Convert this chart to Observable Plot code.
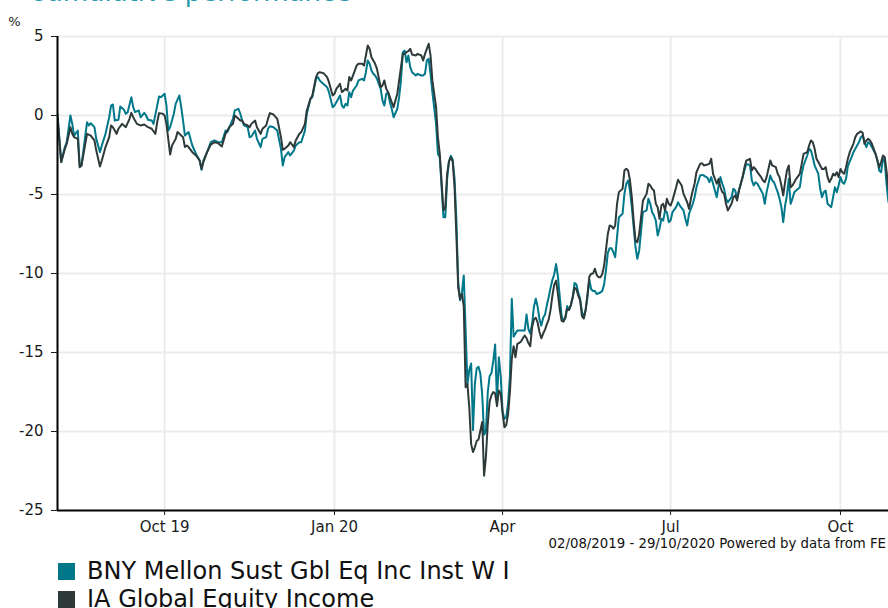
<!DOCTYPE html>
<html>
<head>
<meta charset="utf-8">
<script src="https://cdn.jsdelivr.net/npm/d3@7"></script>
<script src="https://cdn.jsdelivr.net/npm/@observablehq/plot@0.6"></script>
<style>
  html, body { margin: 0; padding: 0; background: #fff; overflow: hidden; }
  body { font-family: "DejaVu Sans", Verdana, sans-serif; }
  #wrap { position: relative; width: 888px; height: 608px; overflow: hidden; }
  #title { position: absolute; left: 28px; top: 0; font-size: 26px; line-height: 26px; height: 26px; color: #2a9bb0; white-space: nowrap; transform: translateY(-21px); }
  #chart { position: absolute; left: 0; top: 0; }
  #caption { position: absolute; right: 2px; top: 536px; font-size: 13.3px; line-height: 15px; color: #111; white-space: nowrap; }
  .lrow { position: absolute; left: 58px; height: 28px; display: flex; align-items: center; font-size: 24px; color: #111; white-space: nowrap; }
  .sw { width: 17px; height: 17px; margin-right: 12px; flex: none; }
</style>
</head>
<body>
<div id="wrap">
  <div id="title">Cumulative performance</div>
  <div id="chart"></div>
  <div id="caption"></div>
  <div id="legend"></div>
</div>
<script>
// ---------- DATA ----------
const seriesNames = ["BNY Mellon Sust Gbl Eq Inc Inst W I", "IA Global Equity Income"];
const seriesColors = ["#00788a", "#2e3a3a"];
const captionText = "02/08/2019 - 29/10/2020 Powered by data from FE";
const yTicks = [5, 0, -5, -10, -15, -20, -25];
const xTickDates = ["2019-10-01", "2020-01-01", "2020-04-01", "2020-07-01", "2020-10-01"];
const xTickLabels = ["Oct 19", "Jan 20", "Apr", "Jul", "Oct"];
const xDomain = ["2019-08-04", "2020-10-27"];

const bnyDates = [
"2019-08-04","2019-08-06","2019-08-08","2019-08-09","2019-08-11","2019-08-12","2019-08-13","2019-08-15","2019-08-16","2019-08-17",
"2019-08-20","2019-08-21","2019-08-22","2019-08-24","2019-08-25","2019-08-27","2019-08-28","2019-08-30",
"2019-09-01","2019-09-02","2019-09-03","2019-09-04","2019-09-06","2019-09-07","2019-09-09","2019-09-10","2019-09-11","2019-09-13",
"2019-09-14","2019-09-15","2019-09-17","2019-09-18","2019-09-20","2019-09-21","2019-09-22","2019-09-24","2019-09-25","2019-09-27",
"2019-09-28","2019-09-29",
"2019-10-01","2019-10-02","2019-10-03","2019-10-04","2019-10-06","2019-10-07","2019-10-09","2019-10-10","2019-10-11","2019-10-12",
"2019-10-14","2019-10-15","2019-10-16","2019-10-18","2019-10-20","2019-10-21","2019-10-22","2019-10-24","2019-10-26","2019-10-28","2019-10-30",
"2019-11-01","2019-11-03","2019-11-04","2019-11-07","2019-11-08","2019-11-10","2019-11-11","2019-11-12","2019-11-13","2019-11-15",
"2019-11-16","2019-11-17","2019-11-19","2019-11-20","2019-11-22","2019-11-23","2019-11-25","2019-11-26","2019-11-27","2019-11-29",
"2019-12-01","2019-12-03","2019-12-04","2019-12-05","2019-12-07","2019-12-08","2019-12-10","2019-12-11","2019-12-13","2019-12-14",
"2019-12-16","2019-12-17","2019-12-19","2019-12-20","2019-12-22","2019-12-23","2019-12-24","2019-12-26","2019-12-28","2019-12-29","2019-12-31",
"2020-01-01","2020-01-02","2020-01-04","2020-01-05","2020-01-06","2020-01-07","2020-01-08","2020-01-09","2020-01-10","2020-01-11",
"2020-01-13","2020-01-14","2020-01-16","2020-01-17","2020-01-18","2020-01-19","2020-01-20","2020-01-21","2020-01-22","2020-01-23",
"2020-01-24","2020-01-26","2020-01-27","2020-01-28","2020-01-29","2020-01-30","2020-01-31",
"2020-02-01","2020-02-02","2020-02-04","2020-02-05","2020-02-06","2020-02-07","2020-02-08","2020-02-09","2020-02-10","2020-02-11",
"2020-02-12","2020-02-14","2020-02-15","2020-02-17","2020-02-18","2020-02-19","2020-02-20","2020-02-21","2020-02-22","2020-02-23",
"2020-02-25","2020-02-26","2020-02-27","2020-02-29",
"2020-03-01","2020-03-02","2020-03-03","2020-03-04","2020-03-05","2020-03-06","2020-03-07","2020-03-08","2020-03-09","2020-03-10",
"2020-03-11","2020-03-12","2020-03-13","2020-03-14","2020-03-15","2020-03-16","2020-03-17","2020-03-18","2020-03-19","2020-03-20",
"2020-03-21","2020-03-22","2020-03-23","2020-03-24","2020-03-25","2020-03-26","2020-03-27","2020-03-28","2020-03-29","2020-03-30","2020-03-31",
"2020-04-01","2020-04-02","2020-04-03","2020-04-04","2020-04-05","2020-04-06","2020-04-07","2020-04-08","2020-04-09","2020-04-10",
"2020-04-11","2020-04-12","2020-04-13","2020-04-14","2020-04-15","2020-04-16","2020-04-17","2020-04-18","2020-04-19","2020-04-20",
"2020-04-21","2020-04-22","2020-04-23","2020-04-24","2020-04-25","2020-04-26","2020-04-27","2020-04-28","2020-04-29","2020-04-30",
"2020-05-01","2020-05-02","2020-05-03","2020-05-04","2020-05-05","2020-05-06","2020-05-07","2020-05-08","2020-05-09","2020-05-10",
"2020-05-11","2020-05-12","2020-05-13","2020-05-14","2020-05-15","2020-05-16","2020-05-17","2020-05-18","2020-05-19","2020-05-20",
"2020-05-21","2020-05-22","2020-05-23","2020-05-24","2020-05-25","2020-05-26","2020-05-27","2020-05-28","2020-05-29","2020-05-30","2020-05-31",
"2020-06-01","2020-06-02","2020-06-03","2020-06-05","2020-06-06","2020-06-07","2020-06-08","2020-06-09","2020-06-10","2020-06-11",
"2020-06-12","2020-06-13","2020-06-14","2020-06-16","2020-06-18","2020-06-19","2020-06-20","2020-06-21","2020-06-22","2020-06-23",
"2020-06-24","2020-06-25","2020-06-26","2020-06-27","2020-06-28","2020-06-29","2020-06-30",
"2020-07-01","2020-07-02","2020-07-04","2020-07-05","2020-07-06","2020-07-08","2020-07-09","2020-07-10","2020-07-11","2020-07-13",
"2020-07-14","2020-07-15","2020-07-17","2020-07-18","2020-07-19","2020-07-21","2020-07-22","2020-07-23","2020-07-24","2020-07-26",
"2020-07-27","2020-07-28","2020-07-29","2020-07-30","2020-07-31",
"2020-08-01","2020-08-03","2020-08-04","2020-08-05","2020-08-06","2020-08-07","2020-08-09","2020-08-10","2020-08-11","2020-08-13",
"2020-08-14","2020-08-15","2020-08-16","2020-08-17","2020-08-19","2020-08-20","2020-08-21","2020-08-22","2020-08-24","2020-08-25",
"2020-08-26","2020-08-27","2020-08-28","2020-08-29","2020-08-30","2020-08-31",
"2020-09-01","2020-09-02","2020-09-03","2020-09-04","2020-09-05","2020-09-06","2020-09-07","2020-09-09","2020-09-10","2020-09-11",
"2020-09-13","2020-09-14","2020-09-15","2020-09-16","2020-09-17","2020-09-19","2020-09-20","2020-09-21","2020-09-22","2020-09-23",
"2020-09-24","2020-09-25","2020-09-26","2020-09-27","2020-09-28","2020-09-29","2020-09-30",
"2020-10-01","2020-10-02","2020-10-03","2020-10-04","2020-10-05","2020-10-07","2020-10-08","2020-10-10","2020-10-11","2020-10-12",
"2020-10-13","2020-10-14","2020-10-15","2020-10-16","2020-10-17","2020-10-18","2020-10-19","2020-10-20","2020-10-21","2020-10-22",
"2020-10-23","2020-10-24","2020-10-25","2020-10-26","2020-10-27"
];
const bnyValues = [
0.11,-2.95,-2.0,-1.69,0.0,-0.53,-1.27,-0.95,-3.16,-3.16,
-0.42,-0.63,-0.49,-0.74,-1.48,-2.32,-1.90,-1.16,
-0.11,0.63,0.70,-0.32,-0.27,0.57,0.36,0.11,0.21,1.16,
0.53,0.21,0.32,-0.11,0.17,0.0,-0.27,-0.32,-0.53,0.63,
1.20,1.16,
1.37,0.63,-0.95,-0.74,0.11,0.74,1.27,0.53,-0.32,-1.27,
-1.05,-1.48,-1.90,-2.43,-2.85,-3.44,-2.85,-2.32,-1.69,-1.58,-1.69,
-1.69,-0.95,-1.05,-0.21,0.32,0.42,0.11,-0.32,-0.63,-0.74,
-1.37,-1.33,-0.95,-1.48,-2.0,-1.48,-1.37,-0.84,-0.68,-0.74,
-0.95,-2.11,-3.16,-2.64,-2.32,-2.53,-2.22,-1.90,-1.69,-1.69,
-0.95,0.11,1.06,1.16,2.32,2.43,2.22,2.0,1.79,1.48,0.53,
0.63,0.84,1.27,0.63,0.49,0.74,0.63,1.48,1.16,1.58,
1.90,2.22,2.32,2.22,2.74,3.48,3.27,2.85,2.64,2.53,
2.32,1.69,0.95,0.63,1.37,1.48,0.84,
0.42,-0.11,0.42,1.16,2.22,4.01,4.11,3.37,3.80,3.06,
2.74,2.53,2.64,2.53,2.53,2.64,3.48,3.59,2.64,1.48,
-0.53,-2.43,-2.64,-6.44,
-6.44,-4.0,-2.9,-2.55,-2.8,-4.0,-6.6,-10.6,-11.7,-11.2,
-10.13,-13.6,-17.0,-16.1,-15.7,-19.9,-17.0,-16.0,-15.9,-16.35,
-17.7,-20.2,-20.0,-17.5,-16.5,-16.3,-15.5,-14.5,-18.2,-15.3,-16.5,
-18.7,-19.2,-19.1,-18.2,-16.5,-11.6,-14.0,-13.8,-13.6,-13.6,
-13.6,-13.6,-13.6,-12.6,-13.5,-13.8,-13.2,-12.1,-11.6,-12.1,
-12.9,-13.3,-12.8,-12.6,-12.0,-11.5,-10.9,-10.4,-10.05,-9.4,
-10.2,-11.5,-12.7,-13.0,-12.8,-12.05,-12.3,-12.0,-11.5,-10.6,
-10.7,-11.2,-11.6,-12.4,-12.8,-12.3,-11.5,-10.4,-11.0,-11.1,
-11.1,-11.3,-11.25,-11.2,-11.1,-10.7,-9.8,-8.7,-8.4,-8.4,-8.65,
-8.97,-7.70,-6.44,-6.22,-4.96,-4.32,-4.11,-4.75,-5.80,-7.07,
-8.34,-9.07,-8.54,-6.12,-6.01,-5.27,-5.59,-6.12,-6.33,-6.65,
-7.59,-7.17,-6.54,-6.65,-6.01,-6.12,-6.75,
-6.65,-6.12,-5.80,-5.49,-5.70,-6.01,-6.54,-6.96,-6.22,-5.59,
-5.17,-4.54,-3.80,-3.76,-3.80,-3.95,-4.22,-3.90,-4.32,-5.17,
-4.43,-3.90,-4.32,-4.64,-5.27,
-5.49,-5.17,-4.64,-4.75,-5.27,-4.75,-3.90,-3.48,-3.06,-3.16,
-4.11,-4.43,-4.22,-4.32,-4.75,-4.96,-5.59,-4.85,-3.80,-4.11,
-4.22,-4.54,-4.85,-5.27,-5.80,-6.75,
-5.70,-5.06,-4.01,-5.59,-5.27,-4.85,-4.75,-4.54,-3.69,-3.16,
-2.53,-2.11,-2.22,-2.64,-3.16,-3.69,-4.64,-5.17,-4.85,-4.75,
-5.59,-5.70,-5.80,-5.17,-4.54,-4.85,-4.43,
-3.90,-4.22,-4.32,-4.01,-3.2,-2.64,-2.32,-1.90,-1.69,-1.37,
-1.27,-1.69,-2.0,-1.69,-1.79,-2.0,-2.22,-2.43,-2.85,-3.48,
-3.59,-2.74,-2.95,-4.43,-5.49
];

const iaDates = [
"2019-08-04","2019-08-06","2019-08-08","2019-08-09","2019-08-11","2019-08-12","2019-08-13","2019-08-15","2019-08-16","2019-08-17",
"2019-08-20","2019-08-22","2019-08-24","2019-08-25","2019-08-27","2019-08-28","2019-08-30",
"2019-09-01","2019-09-02","2019-09-03","2019-09-05","2019-09-06","2019-09-08","2019-09-10","2019-09-12","2019-09-13","2019-09-14",
"2019-09-16","2019-09-18","2019-09-20","2019-09-22","2019-09-24","2019-09-26","2019-09-27","2019-09-28","2019-09-30",
"2019-10-01","2019-10-02","2019-10-04","2019-10-05","2019-10-07","2019-10-08","2019-10-09","2019-10-11","2019-10-12","2019-10-13",
"2019-10-14","2019-10-16","2019-10-18","2019-10-20","2019-10-21","2019-10-22","2019-10-24","2019-10-26","2019-10-28","2019-10-30",
"2019-11-01","2019-11-03","2019-11-05","2019-11-07","2019-11-08","2019-11-10","2019-11-11","2019-11-12","2019-11-13","2019-11-15",
"2019-11-16","2019-11-17","2019-11-19","2019-11-20","2019-11-22","2019-11-23","2019-11-25","2019-11-26","2019-11-27","2019-11-29",
"2019-12-01","2019-12-03","2019-12-04","2019-12-05","2019-12-07","2019-12-08","2019-12-10","2019-12-11","2019-12-13","2019-12-14",
"2019-12-16","2019-12-17","2019-12-19","2019-12-20","2019-12-22","2019-12-23","2019-12-24","2019-12-26","2019-12-28","2019-12-29","2019-12-31",
"2020-01-01","2020-01-02","2020-01-04","2020-01-05","2020-01-06","2020-01-07","2020-01-08","2020-01-09","2020-01-10","2020-01-11",
"2020-01-13","2020-01-14","2020-01-16","2020-01-17","2020-01-18","2020-01-19","2020-01-20","2020-01-21","2020-01-22","2020-01-23",
"2020-01-24","2020-01-26","2020-01-27","2020-01-28","2020-01-29","2020-01-30","2020-01-31",
"2020-02-01","2020-02-02","2020-02-04","2020-02-05","2020-02-06","2020-02-07","2020-02-08","2020-02-09","2020-02-10","2020-02-11",
"2020-02-12","2020-02-14","2020-02-15","2020-02-17","2020-02-18","2020-02-19","2020-02-20","2020-02-21","2020-02-22","2020-02-23",
"2020-02-25","2020-02-26","2020-02-27","2020-02-29",
"2020-03-01","2020-03-02","2020-03-03","2020-03-04","2020-03-05","2020-03-06","2020-03-07","2020-03-08","2020-03-09","2020-03-10",
"2020-03-11","2020-03-12","2020-03-13","2020-03-14","2020-03-15","2020-03-16","2020-03-17","2020-03-18","2020-03-19","2020-03-20",
"2020-03-21","2020-03-22","2020-03-23","2020-03-24","2020-03-25","2020-03-26","2020-03-27","2020-03-28","2020-03-29","2020-03-30","2020-03-31",
"2020-04-01","2020-04-02","2020-04-03","2020-04-04","2020-04-05","2020-04-06","2020-04-07","2020-04-08","2020-04-09","2020-04-10",
"2020-04-11","2020-04-12","2020-04-13","2020-04-14","2020-04-15","2020-04-16","2020-04-17","2020-04-18","2020-04-19","2020-04-20",
"2020-04-21","2020-04-22","2020-04-23","2020-04-24","2020-04-25","2020-04-26","2020-04-27","2020-04-28","2020-04-29","2020-04-30",
"2020-05-01","2020-05-02","2020-05-03","2020-05-04","2020-05-05","2020-05-06","2020-05-07","2020-05-08","2020-05-09","2020-05-10",
"2020-05-11","2020-05-12","2020-05-13","2020-05-14","2020-05-15","2020-05-16","2020-05-17","2020-05-18","2020-05-19","2020-05-20",
"2020-05-21","2020-05-22","2020-05-23","2020-05-24","2020-05-25","2020-05-26","2020-05-27","2020-05-28","2020-05-29","2020-05-30","2020-05-31",
"2020-06-01","2020-06-02","2020-06-03","2020-06-05","2020-06-06","2020-06-07","2020-06-08","2020-06-09","2020-06-10","2020-06-11",
"2020-06-12","2020-06-13","2020-06-14","2020-06-16","2020-06-18","2020-06-19","2020-06-20","2020-06-21","2020-06-22","2020-06-23",
"2020-06-24","2020-06-25","2020-06-26","2020-06-27","2020-06-28","2020-06-29","2020-06-30",
"2020-07-01","2020-07-02","2020-07-03","2020-07-04","2020-07-05","2020-07-07","2020-07-08","2020-07-10","2020-07-11","2020-07-12",
"2020-07-13","2020-07-14","2020-07-15","2020-07-17","2020-07-18","2020-07-19","2020-07-21","2020-07-22","2020-07-23","2020-07-24",
"2020-07-26","2020-07-27","2020-07-28","2020-07-29","2020-07-30","2020-07-31",
"2020-08-01","2020-08-03","2020-08-04","2020-08-05","2020-08-06","2020-08-07","2020-08-09","2020-08-10","2020-08-11","2020-08-13",
"2020-08-14","2020-08-15","2020-08-16","2020-08-17","2020-08-19","2020-08-20","2020-08-21","2020-08-22","2020-08-24","2020-08-25",
"2020-08-27","2020-08-28","2020-08-29","2020-08-30","2020-08-31",
"2020-09-01","2020-09-02","2020-09-03","2020-09-04","2020-09-05","2020-09-06","2020-09-07","2020-09-09","2020-09-10","2020-09-11",
"2020-09-13","2020-09-14","2020-09-15","2020-09-16","2020-09-17","2020-09-18","2020-09-19","2020-09-21","2020-09-22","2020-09-23",
"2020-09-24","2020-09-25","2020-09-26","2020-09-27","2020-09-28","2020-09-29","2020-09-30",
"2020-10-01","2020-10-02","2020-10-03","2020-10-04","2020-10-05","2020-10-06","2020-10-08","2020-10-09","2020-10-10","2020-10-12",
"2020-10-13","2020-10-14","2020-10-15","2020-10-16","2020-10-17","2020-10-18","2020-10-19","2020-10-20","2020-10-21","2020-10-22",
"2020-10-23","2020-10-24","2020-10-25","2020-10-26","2020-10-27"
];
const iaValues = [
-0.11,-2.95,-2.11,-1.79,-0.74,-1.16,-1.37,-1.48,-3.27,-3.16,
-1.16,-1.27,-1.58,-2.22,-3.23,-2.85,-2.0,
-1.37,-0.63,-0.74,-1.16,-0.84,-0.53,-0.74,-0.21,0.17,-0.11,
-0.53,-0.63,-0.57,-0.74,-0.84,-1.16,-0.42,0.15,0.11,
0.0,-0.53,-2.47,-1.90,-1.48,-1.05,-1.16,-1.37,-2.0,-1.90,
-2.0,-2.32,-2.53,-2.85,-3.38,-2.95,-2.32,-1.84,-1.69,-1.75,
-1.96,-1.16,-0.74,-0.53,0.0,-0.21,-0.32,-0.32,-0.53,-0.63,
-0.74,-0.53,-0.32,-0.74,-1.16,-0.84,-0.63,-0.21,0.15,0.06,
-0.21,-1.37,-2.17,-2.11,-1.90,-1.69,-2.0,-1.58,-1.16,-1.05,
-0.53,0.32,1.06,1.27,2.43,2.68,2.74,2.68,2.43,2.11,1.27,
1.37,1.69,2.0,1.48,1.58,1.69,1.58,2.43,2.22,2.53,
3.16,3.27,3.27,3.16,3.80,4.43,4.22,3.69,3.48,3.27,
2.95,1.79,1.90,2.22,1.69,1.48,1.16,
0.84,0.53,1.37,2.22,3.06,3.90,3.90,4.01,4.07,4.22,
3.86,3.80,3.90,3.80,3.48,3.90,4.22,4.54,3.80,2.22,
0.53,-1.37,-2.43,-6.0,
-5.85,-3.7,-2.9,-2.65,-2.9,-4.5,-7.6,-10.9,-11.6,-11.3,
-12.1,-17.2,-17.0,-18.5,-20.8,-21.3,-21.0,-20.6,-20.5,-19.94,
-19.4,-22.8,-21.6,-19.5,-18.1,-17.7,-17.5,-17.6,-18.4,-17.4,-17.6,
-18.8,-19.73,-19.6,-18.9,-17.5,-15.4,-14.6,-15.3,-14.45,-14.4,
-14.3,-14.1,-13.92,-14.1,-14.4,-14.6,-13.4,-12.9,-12.8,-13.1,
-13.7,-14.1,-13.8,-13.55,-13.2,-12.9,-12.3,-11.4,-10.7,-10.45,
-11.3,-12.3,-13.0,-13.05,-12.8,-12.25,-12.3,-12.0,-11.5,-10.9,
-11.0,-11.4,-11.7,-12.7,-12.85,-12.3,-11.3,-10.2,-10.02,-10.0,
-9.7,-10.1,-10.23,-10.23,-10.05,-9.5,-8.5,-7.5,-6.96,-7.0,-7.17,
-6.96,-5.59,-4.85,-4.64,-3.48,-3.37,-3.48,-4.11,-5.17,-6.65,
-7.91,-8.02,-7.49,-5.4,-4.96,-4.32,-4.43,-4.64,-4.75,-5.59,
-5.80,-6.54,-5.70,-5.59,-6.01,-5.27,-5.59,
-5.70,-5.38,-4.96,-4.54,-4.07,-4.43,-4.96,-5.49,-5.91,-5.27,
-4.75,-4.32,-3.59,-3.06,-3.02,-3.16,-3.10,-3.06,-2.74,-3.69,
-4.32,-4.01,-4.54,-4.85,-4.96,-5.59,
-6.01,-5.59,-5.17,-5.06,-5.38,-4.75,-3.90,-3.27,-2.85,-2.74,
-3.48,-3.27,-3.38,-3.59,-3.90,-4.11,-4.22,-3.90,-2.85,-3.16,
-3.27,-3.69,-3.90,-4.43,-5.06,
-4.22,-3.48,-3.16,-4.54,-4.43,-4.22,-4.01,-3.69,-3.06,-2.43,
-2.32,-1.90,-1.58,-1.69,-2.11,-2.74,-2.95,-3.38,-3.38,-3.27,
-3.90,-4.22,-4.01,-3.69,-3.80,-3.59,-3.90,
-3.38,-3.59,-3.69,-3.27,-2.74,-2.32,-1.79,-1.37,-1.16,-1.01,
-1.10,-1.79,-1.58,-1.48,-1.58,-1.79,-2.11,-2.43,-2.85,-3.27,
-2.95,-2.53,-2.64,-3.59,-4.64
];

// ---------- BUILD ----------
const toRows = (dates, values) => dates.map((d, i) => ({date: new Date(d), value: values[i]}));
const bny = toRows(bnyDates, bnyValues);
const ia = toRows(iaDates, iaValues);
const tickDates = xTickDates.map(d => new Date(d));
const labelMap = new Map(tickDates.map((d, i) => [+d, xTickLabels[i]]));
const x0 = new Date(xDomain[0]);

const chart = Plot.plot({
  width: 888,
  height: 540,
  marginTop: 36,
  marginBottom: 30,
  marginLeft: 57,
  marginRight: 0,
  style: {fontFamily: "'DejaVu Sans', Verdana, sans-serif", fontSize: "15px", color: "#1a1a1a", background: "transparent", overflow: "visible"},
  x: {type: "utc", domain: xDomain.map(d => new Date(d))},
  y: {domain: [-25, 5]},
  marks: [
    Plot.ruleY(yTicks.filter(v => v > -25), {stroke: "#ececec", strokeWidth: 2}),
    Plot.ruleX(tickDates, {stroke: "#ececec", strokeWidth: 2}),
    Plot.line(bny, {x: "date", y: "value", stroke: seriesColors[0], strokeWidth: 2, clip: true}),
    Plot.line(ia, {x: "date", y: "value", stroke: seriesColors[1], strokeWidth: 2, clip: true}),
    Plot.ruleX([x0], {stroke: "#000", strokeWidth: 2}),
    Plot.ruleY([-25], {stroke: "#000", strokeWidth: 2}),
    Plot.axisY(yTicks, {tickSize: 6, tickPadding: 8, tickFormat: d => String(d), label: null, fontSize: 15}),
    Plot.axisX(tickDates, {tickSize: 5, tickPadding: 6, tickFormat: d => labelMap.get(+d), label: null, fontSize: 15}),
    Plot.text(["%"], {frameAnchor: "top-left", dx: -43, dy: -20, fontSize: 13, textAnchor: "middle"})
  ]
});
document.getElementById("chart").appendChild(chart);
document.getElementById("caption").textContent = captionText;

const legend = document.getElementById("legend");
seriesNames.forEach((name, i) => {
  const row = document.createElement("div");
  row.className = "lrow";
  row.style.top = (557 + i * 28) + "px";
  const sw = document.createElement("span");
  sw.className = "sw";
  sw.style.background = seriesColors[i];
  const t = document.createElement("span");
  t.textContent = name;
  row.appendChild(sw);
  row.appendChild(t);
  legend.appendChild(row);
});
</script>
</body>
</html>
